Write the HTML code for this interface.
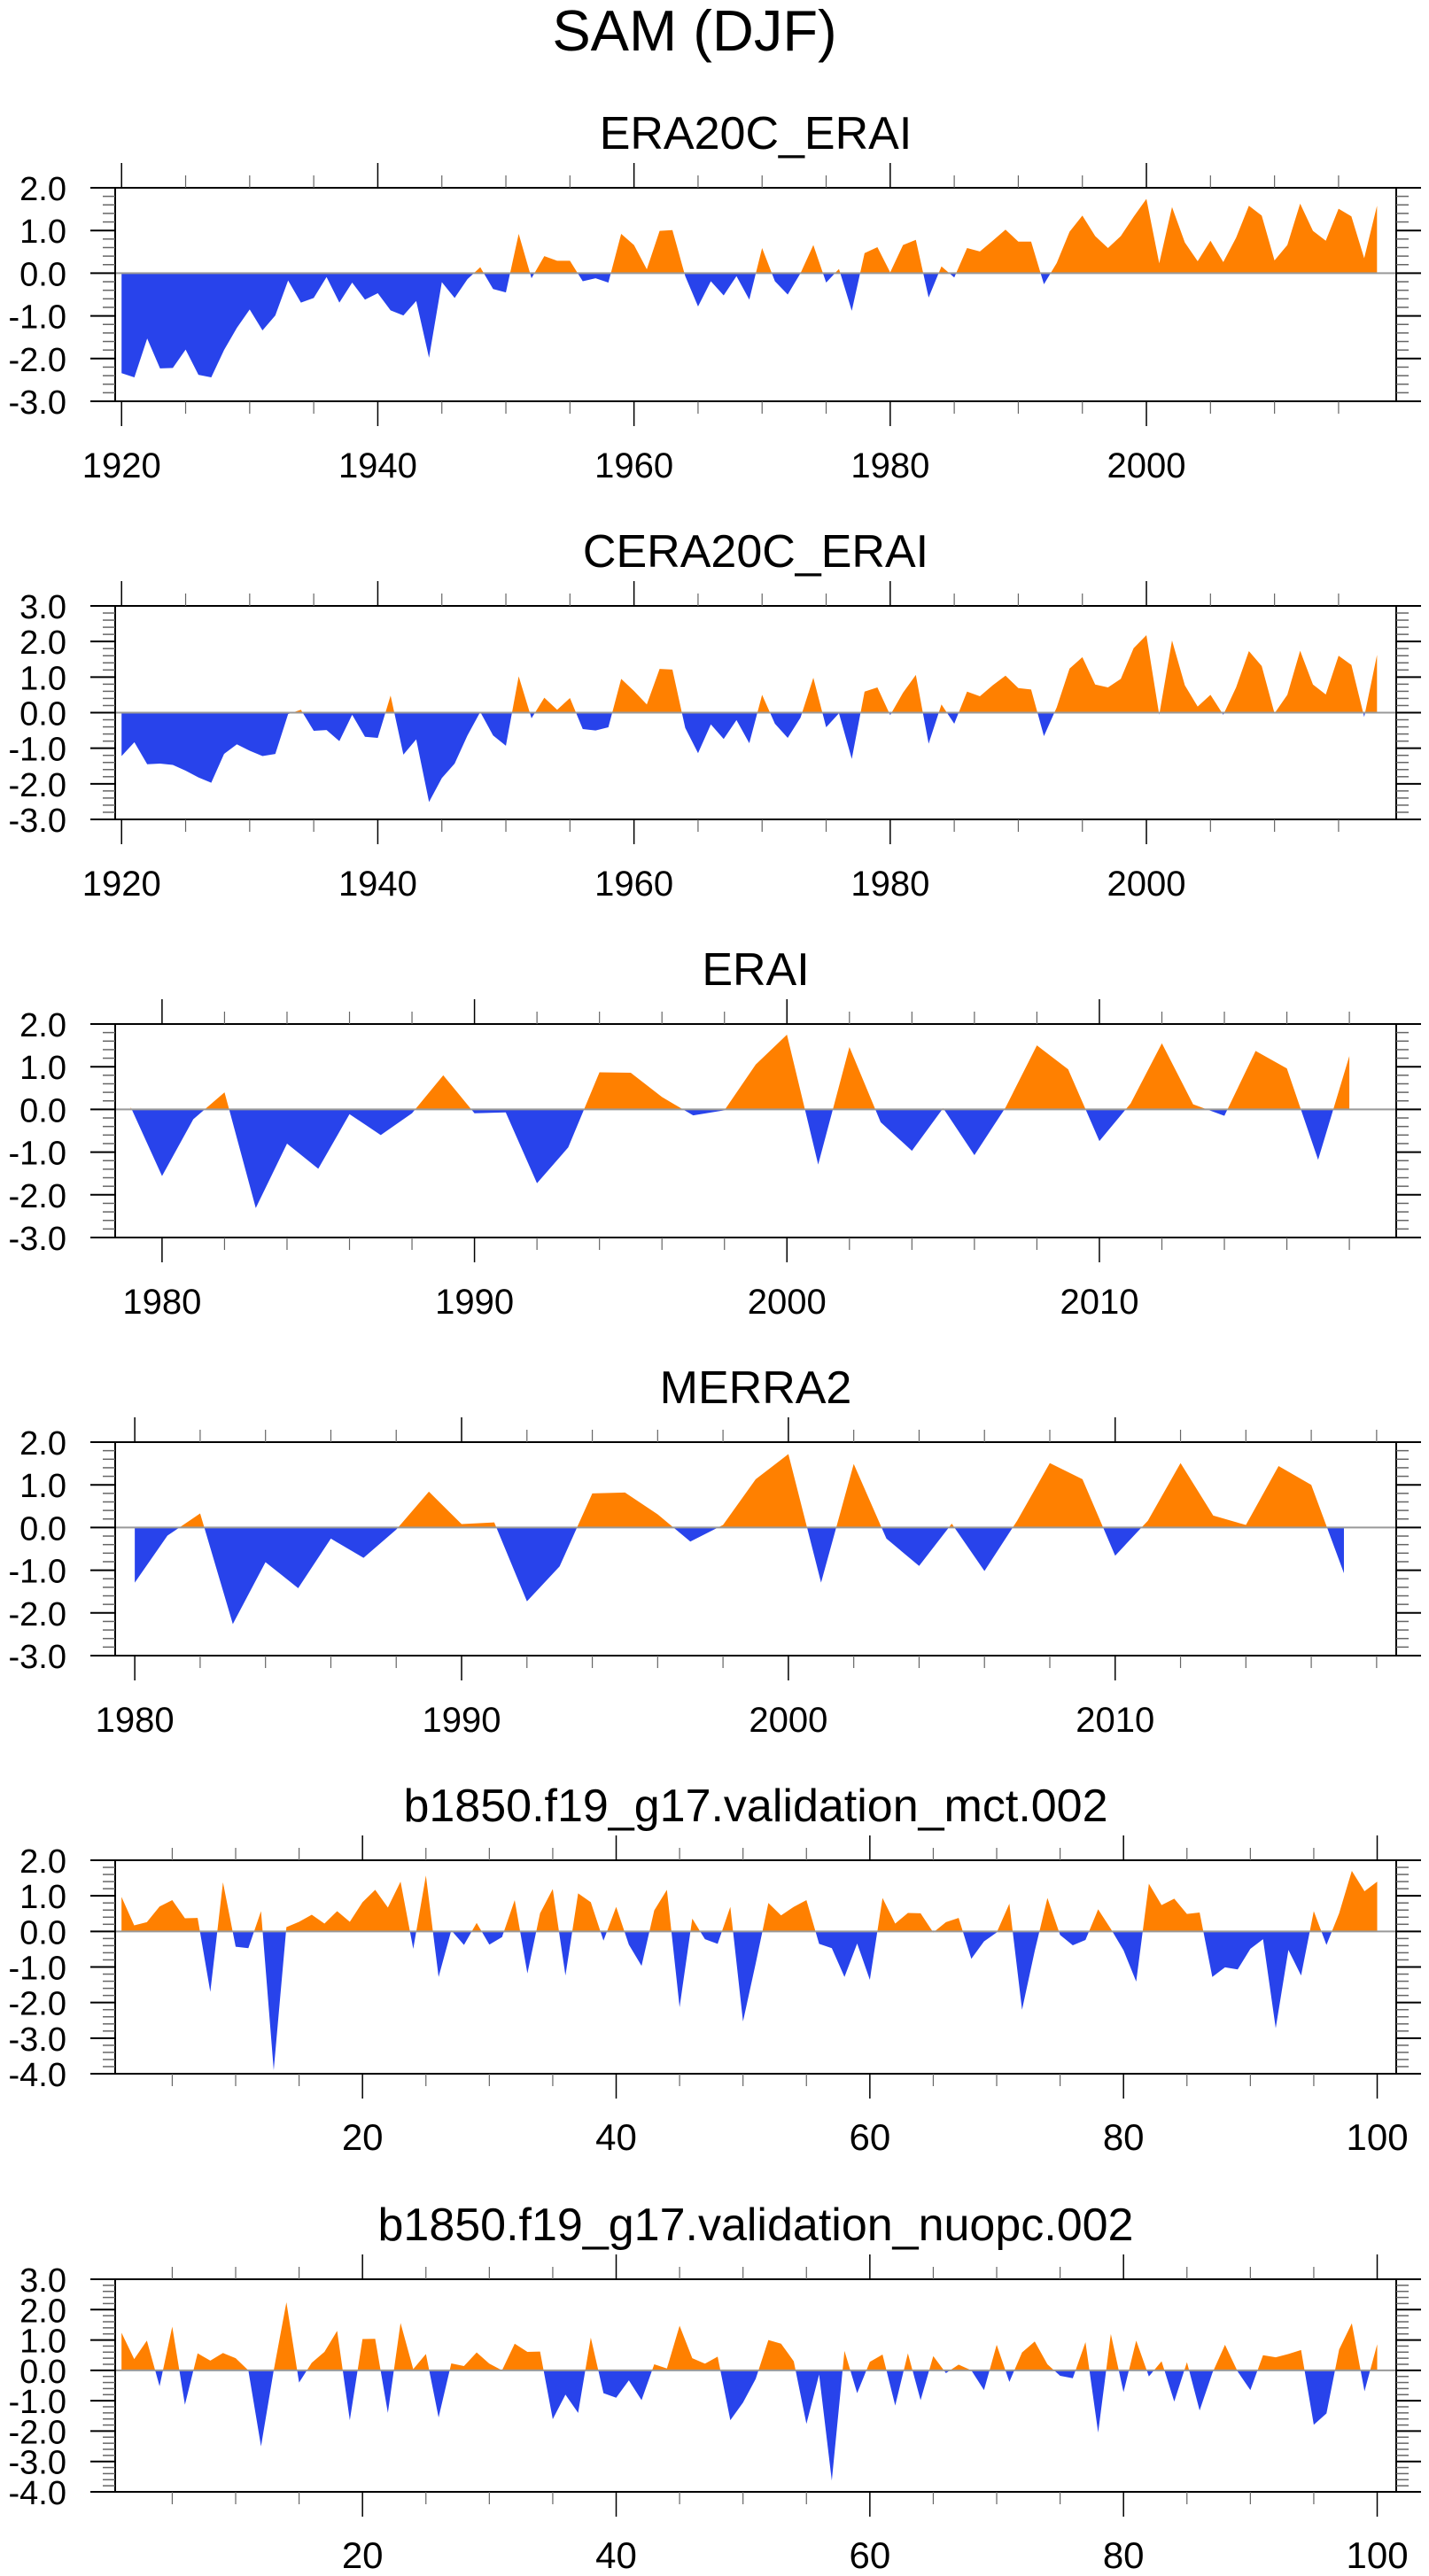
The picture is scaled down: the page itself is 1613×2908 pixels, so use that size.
<!DOCTYPE html>
<html><head><meta charset="utf-8"><style>
html,body{margin:0;padding:0;background:#fff;}
svg{display:block;font-family:"Liberation Sans",Arial,sans-serif;}
</style></head>
<body>
<svg id="fig" width="1613" height="2908" viewBox="0 0 1613 2908" xmlns="http://www.w3.org/2000/svg">
<rect width="1613" height="2908" fill="#fff"/>
<text x="784" y="57" font-size="65" text-anchor="middle">SAM (DJF)</text>
</svg>
<script>
// ---- data ----
const era20cYears = Array.from({length: 99}, (_, i) => 1920 + i);
const era20cValues = [-2.34,-2.44,-1.53,-2.23,-2.22,-1.79,-2.38,-2.44,-1.8,-1.28,-0.85,-1.34,-0.99,-0.17,-0.69,-0.58,-0.09,-0.69,-0.22,-0.62,-0.47,-0.87,-0.99,-0.65,-1.98,-0.21,-0.58,-0.14,0.14,-0.37,-0.45,0.92,-0.12,0.40,0.29,0.29,-0.19,-0.12,-0.22,0.92,0.66,0.09,0.99,1.01,-0.07,-0.78,-0.19,-0.52,-0.07,-0.62,0.59,-0.19,-0.50,0.0,0.66,-0.22,0.10,-0.88,0.47,0.61,0.02,0.66,0.78,-0.57,0.16,-0.10,0.59,0.51,0.76,1.02,0.74,0.74,-0.26,0.24,0.97,1.35,0.87,0.59,0.87,1.32,1.74,0.23,1.55,0.72,0.28,0.76,0.26,0.83,1.58,1.35,0.30,0.66,1.63,0.99,0.76,1.51,1.33,0.35,1.58];
const cera20cYears = Array.from({length: 99}, (_, i) => 1920 + i);
const cera20cValues = [-1.22,-0.83,-1.45,-1.43,-1.47,-1.63,-1.82,-1.97,-1.16,-0.89,-1.07,-1.22,-1.16,-0.04,0.08,-0.51,-0.49,-0.80,-0.06,-0.68,-0.71,0.48,-1.18,-0.75,-2.51,-1.84,-1.43,-0.64,0.02,-0.64,-0.93,1.02,-0.16,0.42,0.08,0.41,-0.46,-0.50,-0.41,0.95,0.61,0.23,1.23,1.21,-0.43,-1.14,-0.33,-0.74,-0.21,-0.86,0.50,-0.31,-0.71,-0.14,0.98,-0.41,-0.02,-1.30,0.59,0.71,-0.07,0.56,1.06,-0.87,0.23,-0.31,0.59,0.46,0.77,1.04,0.69,0.65,-0.66,0.15,1.24,1.56,0.79,0.71,0.95,1.81,2.18,-0.06,2.03,0.77,0.17,0.50,-0.06,0.71,1.73,1.31,-0.02,0.50,1.74,0.79,0.51,1.60,1.34,-0.12,1.62];
const eraiYears = Array.from({length: 40}, (_, i) => 1979 + i);
const eraiValues = [0.05,-1.56,-0.23,0.40,-2.31,-0.80,-1.39,-0.11,-0.60,-0.09,0.80,-0.09,-0.07,-1.73,-0.89,0.87,0.86,0.29,-0.14,-0.02,1.05,1.75,-1.29,1.46,-0.30,-0.97,0.03,-1.07,0.05,1.50,0.94,-0.74,0.14,1.55,0.12,-0.15,1.37,0.96,-1.18,1.25];
const merraYears = Array.from({length: 38}, (_, i) => 1980 + i);
const merraValues = [-1.29,-0.19,0.33,-2.26,-0.81,-1.42,-0.26,-0.71,-0.05,0.84,0.08,0.12,-1.73,-0.91,0.80,0.82,0.31,-0.33,0.06,1.13,1.72,-1.29,1.49,-0.26,-0.90,0.09,-1.02,0.16,1.51,1.13,-0.66,0.16,1.51,0.28,0.06,1.44,1.00,-1.07];
const mctYears = Array.from({length: 100}, (_, i) => 1 + i);
const mctValues = [0.97,0.17,0.26,0.70,0.88,0.37,0.38,-1.70,1.38,-0.43,-0.47,0.57,-3.90,0.12,0.27,0.47,0.22,0.57,0.27,0.82,1.17,0.67,1.40,-0.49,1.57,-1.28,0.03,-0.38,0.24,-0.37,-0.16,0.88,-1.18,0.51,1.19,-1.24,1.07,0.82,-0.26,0.69,-0.37,-0.97,0.59,1.17,-2.13,0.36,-0.22,-0.35,0.69,-2.53,-0.90,0.80,0.45,0.69,0.88,-0.35,-0.47,-1.28,-0.34,-1.36,0.94,0.22,0.52,0.51,-0.03,0.26,0.38,-0.77,-0.28,-0.03,0.78,-2.20,-0.55,0.94,-0.10,-0.39,-0.24,0.62,0.07,-0.53,-1.41,1.34,0.74,0.92,0.49,0.53,-1.28,-1.01,-1.07,-0.49,-0.22,-2.72,-0.52,-1.24,0.57,-0.38,0.51,1.70,1.13,1.40];
const nuopcYears = Array.from({length: 100}, (_, i) => 1 + i);
const nuopcValues = [1.24,0.37,0.98,-0.52,1.44,-1.13,0.56,0.32,0.57,0.40,0.0,-2.50,0.0,2.24,-0.40,0.25,0.61,1.30,-1.64,1.03,1.04,-1.40,1.56,0.04,0.54,-1.55,0.23,0.14,0.59,0.22,0.0,0.88,0.61,0.62,-1.61,-0.80,-1.40,1.08,-0.75,-0.90,-0.33,-0.98,0.20,0.06,1.47,0.40,0.22,0.45,-1.64,-1.06,-0.28,1.00,0.88,0.30,-1.76,-0.14,-3.63,0.64,-0.75,0.28,0.52,-1.16,0.56,-0.98,0.47,-0.09,0.19,0.0,-0.65,0.84,-0.38,0.59,0.95,0.20,-0.18,-0.26,0.93,-2.05,1.20,-0.72,0.98,-0.20,0.30,-1.03,0.27,-1.32,-0.09,0.84,-0.04,-0.65,0.50,0.43,0.54,0.67,-1.79,-1.42,0.69,1.55,-0.69,0.86];

const panels = [
 {key:'era20c-erai', title:'ERA20C_ERAI', top:212, bot:453, xmin:1919.5, xmax:2019.5, ymin:-3, ymax:2, x:era20cYears, v:era20cValues, major:20, minor:5, xfirst:1920},
 {key:'cera20c-erai', title:'CERA20C_ERAI', top:684, bot:925, xmin:1919.5, xmax:2019.5, ymin:-3, ymax:3, x:cera20cYears, v:cera20cValues, major:20, minor:5, xfirst:1920},
 {key:'erai', title:'ERAI', top:1156, bot:1397, xmin:1978.5, xmax:2019.5, ymin:-3, ymax:2, x:eraiYears, v:eraiValues, major:10, minor:2, xfirst:1980},
 {key:'merra2', title:'MERRA2', top:1628, bot:1869, xmin:1979.4, xmax:2018.6, ymin:-3, ymax:2, x:merraYears, v:merraValues, major:10, minor:2, xfirst:1980},
 {key:'mct', title:'b1850.f19_g17.validation_mct.002', top:2100, bot:2341, xmin:0.5, xmax:101.5, ymin:-4, ymax:2, x:mctYears, v:mctValues, major:20, minor:5, xfirst:5},
 {key:'nuopc', title:'b1850.f19_g17.validation_nuopc.002', top:2573, bot:2813, xmin:0.5, xmax:101.5, ymin:-4, ymax:3, x:nuopcYears, v:nuopcValues, major:20, minor:5, xfirst:5}
];
const NS = 'http://www.w3.org/2000/svg';
const svg = document.getElementById('fig');
const L = 130, R = 1576;
function mk(tag, attrs, parent){const e=document.createElementNS(NS,tag);for(const k in attrs)e.setAttribute(k,attrs[k]);(parent||svg).appendChild(e);return e;}

panels.forEach((p, pi) => {
  const g = mk('g', {});
  
  
  const xs = t => L + (t - p.xmin) / (p.xmax - p.xmin) * (R - L);
  const ys = v => p.bot - (v - p.ymin) / (p.ymax - p.ymin) * (p.bot - p.top);
  const y0 = ys(0);
  const t = mk('text', {x:853, y:p.top-44, 'font-size':52, 'text-anchor':'middle'}, g);
  t.textContent = p.title;
  
  
  // area
  let d = 'M' + xs(p.x[0]) + ',' + y0;
  p.x.forEach((xx, i) => { d += ' L' + xs(xx).toFixed(2) + ',' + ys(p.v[i]).toFixed(2); });
  d += ' L' + xs(p.x[p.x.length-1]) + ',' + y0 + ' Z';
  const cpA = mk('clipPath', {id:'ca'+pi}, g); mk('rect', {x:L, y:p.top, width:R-L, height:y0-p.top}, cpA);
  const cpB = mk('clipPath', {id:'cb'+pi}, g); mk('rect', {x:L, y:y0, width:R-L, height:p.bot-y0}, cpB);
  const pos = mk('path', {d:d, fill:'#ff8000', 'clip-path':'url(#ca'+pi+')'}, g);
  
  
  const neg = mk('path', {d:d, fill:'#2843eb', 'clip-path':'url(#cb'+pi+')'}, g);
  
  
  const zl = mk('line', {x1:L, x2:R, y1:y0, y2:y0, stroke:'#999', 'stroke-width':2}, g);
  
  
  // frame
  const fr = mk('rect', {x:L, y:p.top, width:R-L, height:p.bot-p.top, fill:'none', stroke:'#000', 'stroke-width':2}, g);
  
  
  // y ticks
  for (let k = Math.round(p.ymin*5); k <= Math.round(p.ymax*5); k++) {
    const v = k/5, yy = ys(v), maj = (k % 5 === 0);
    const len = maj ? 28 : 14;
    mk('line', {x1:L-len, x2:L, y1:yy, y2:yy, stroke: maj?'#000':'#666', 'stroke-width':maj?2:1.5}, g);
    mk('line', {x1:R, x2:R+len, y1:yy, y2:yy, stroke: maj?'#000':'#666', 'stroke-width':maj?2:1.5}, g);
    if (maj) {
      const lb = mk('text', {x:75, y:yy+14, 'font-size':38, 'text-anchor':'end'}, g);
      lb.textContent = v.toFixed(1);
      
      
    }
  }
  // x ticks
  for (let tv = p.xfirst; tv <= p.xmax; tv += p.minor) {
    if (tv < p.xmin) continue;
    const xx = xs(tv), maj = (tv % p.major === 0);
    const len = maj ? 28 : 14;
    mk('line', {x1:xx, x2:xx, y1:p.top-len, y2:p.top, stroke: maj?'#000':'#666', 'stroke-width':maj?1.5:1.2}, g);
    mk('line', {x1:xx, x2:xx, y1:p.bot, y2:p.bot+len, stroke: maj?'#000':'#666', 'stroke-width':maj?1.5:1.2}, g);
    if (maj) {
      const lb = mk('text', {x:xx, y:p.bot+86, 'font-size':pi>=4?42:40, 'text-anchor':'middle'}, g);
      lb.textContent = String(tv);
      
      
    }
  }
});
</script>
</body></html>
